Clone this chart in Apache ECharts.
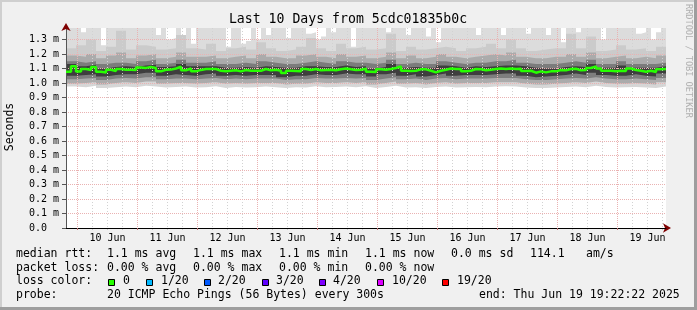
<!DOCTYPE html>
<html><head><meta charset="utf-8">
<script src="https://cdn.jsdelivr.net/npm/echarts@6/dist/echarts.min.js"></script>
<style>html,body{margin:0;padding:0;background:#f0f0f0}#c{width:697px;height:310px}</style>
</head><body><div id="c"></div>
<script>
// time axis in hours since 9 Jun 00:00; graph spans 10 days ending Jun 19 19:22:22
const T0 = 19.3728, T1 = 259.3728;
const majorHours = [24,48,72,96,120,144,168,192,216,240];
const minorHours = [30,36,42,54,60,66,78,84,90,102,108,114,126,132,138,150,156,162,174,180,186,198,204,210,222,228,234,246,252,258];
const labelHours = [36,60,84,108,132,156,180,204,228,252];
const dayLabels = ['10 Jun','11 Jun','12 Jun','13 Jun','14 Jun','15 Jun','16 Jun','17 Jun','18 Jun','19 Jun'];
const yTicks = [0,0.1,0.2,0.3,0.4,0.5,0.6,0.7,0.8,0.9,1.0,1.1,1.2,1.3];

// median rtt (ms), 120 samples of 2h
const median = [
 1.078,1.115,1.079,1.096,1.089,1.110,1.077,1.072,1.091,1.082,
 1.096,1.091,1.091,1.090,1.106,1.104,1.110,1.103,1.080,1.091,
 1.092,1.100,1.112,1.088,1.100,1.080,1.090,1.096,1.096,1.096,
 1.084,1.080,1.084,1.087,1.080,1.089,1.084,1.084,1.084,1.096,
 1.087,1.091,1.084,1.069,1.084,1.082,1.080,1.096,1.089,1.096,
 1.087,1.089,1.091,1.087,1.094,1.100,1.094,1.089,1.091,1.098,
 1.078,1.076,1.094,1.091,1.096,1.103,1.114,1.084,1.082,1.084,
 1.094,1.094,1.084,1.073,1.084,1.091,1.100,1.096,1.096,1.080,
 1.084,1.096,1.094,1.087,1.091,1.096,1.100,1.096,1.100,1.096,
 1.098,1.082,1.084,1.071,1.080,1.073,1.080,1.080,1.089,1.087,
 1.096,1.098,1.087,1.089,1.103,1.114,1.100,1.084,1.084,1.080,
 1.084,1.082,1.100,1.089,1.084,1.078,1.084,1.076,1.094,1.096
];
// highest ping (ms), 120 samples
const smokeMax = [
 1.379,1.379,1.379,1.35,1.379,1.379,1.379,1.26,1.379,1.379,
 1.379,1.379,1.379,1.379,1.379,1.379,1.379,1.379,1.33,1.379,
 1.30,1.31,1.379,1.33,1.379,1.27,1.379,1.379,1.379,1.379,
 1.379,1.379,1.25,1.379,1.379,1.27,1.29,1.379,1.30,1.379,
 1.33,1.379,1.379,1.379,1.31,1.379,1.379,1.379,1.34,1.35,
 1.30,1.32,1.379,1.35,1.379,1.379,1.379,1.25,1.379,1.379,
 1.379,1.379,1.379,1.379,1.35,1.379,1.379,1.379,1.33,1.379,
 1.379,1.379,1.32,1.379,1.28,1.379,1.379,1.379,1.379,1.379,
 1.379,1.379,1.33,1.379,1.379,1.379,1.379,1.33,1.379,1.379,
 1.379,1.379,1.34,1.379,1.379,1.379,1.33,1.379,1.379,1.28,
 1.379,1.379,1.35,1.379,1.379,1.379,1.379,1.30,1.379,1.379,
 1.379,1.379,1.379,1.379,1.34,1.35,1.379,1.30,1.35,1.379
];
// smoke band edges (ms), 60 samples of 4h
const smokeB1 = [1.24,1.26,1.30,1.22,1.25,1.36,1.23,1.26,1.25,1.23,1.24,1.33,1.24,1.23,1.27,1.22,1.24,1.25,1.23,1.28,1.24,1.22,1.23,1.25,1.31,1.24,1.22,1.27,1.24,1.25,1.23,1.24,1.34,1.22,1.25,1.23,1.24,1.25,1.24,1.22,1.24,1.25,1.27,1.24,1.30,1.24,1.22,1.23,1.24,1.24,1.34,1.24,1.32,1.22,1.23,1.26,1.23,1.24,1.22,1.25];
const smokeB2 = [1.19,1.18,1.20,1.17,1.19,1.21,1.17,1.19,1.20,1.17,1.18,1.21,1.18,1.18,1.19,1.17,1.18,1.19,1.17,1.20,1.18,1.17,1.17,1.19,1.20,1.18,1.17,1.20,1.18,1.19,1.17,1.18,1.21,1.17,1.19,1.17,1.18,1.20,1.18,1.17,1.18,1.19,1.20,1.19,1.21,1.18,1.17,1.17,1.18,1.18,1.20,1.18,1.21,1.17,1.18,1.19,1.17,1.18,1.17,1.19];
const smokeB3 = [1.15,1.14,1.15,1.13,1.14,1.14,1.13,1.15,1.16,1.13,1.14,1.16,1.14,1.14,1.15,1.13,1.13,1.14,1.13,1.15,1.14,1.13,1.13,1.14,1.15,1.14,1.13,1.15,1.14,1.14,1.13,1.14,1.16,1.13,1.14,1.13,1.13,1.15,1.14,1.13,1.14,1.14,1.15,1.15,1.16,1.14,1.13,1.13,1.13,1.14,1.15,1.14,1.16,1.13,1.13,1.15,1.13,1.13,1.13,1.14];
const smokeB4 = [1.13,1.115,1.125,1.10,1.11,1.115,1.11,1.12,1.125,1.11,1.115,1.13,1.115,1.115,1.115,1.105,1.105,1.11,1.105,1.115,1.11,1.105,1.105,1.115,1.115,1.11,1.11,1.12,1.11,1.115,1.10,1.11,1.13,1.105,1.11,1.105,1.105,1.12,1.115,1.105,1.115,1.11,1.115,1.12,1.12,1.115,1.105,1.10,1.10,1.11,1.115,1.11,1.13,1.105,1.105,1.12,1.105,1.105,1.105,1.115];
const smokeC1 = [1.05,1.055,1.06,1.045,1.055,1.06,1.06,1.07,1.07,1.05,1.06,1.055,1.05,1.06,1.065,1.05,1.055,1.05,1.055,1.055,1.055,1.04,1.05,1.05,1.06,1.055,1.055,1.065,1.06,1.06,1.045,1.06,1.07,1.05,1.06,1.045,1.055,1.065,1.05,1.055,1.055,1.055,1.06,1.065,1.065,1.05,1.04,1.045,1.05,1.055,1.065,1.055,1.07,1.055,1.05,1.05,1.06,1.05,1.045,1.065];
const smokeC2 = [1.025,1.03,1.035,1.02,1.03,1.035,1.03,1.04,1.04,1.025,1.03,1.03,1.025,1.03,1.035,1.025,1.03,1.025,1.03,1.03,1.03,1.02,1.025,1.025,1.035,1.03,1.03,1.035,1.03,1.035,1.02,1.03,1.04,1.025,1.03,1.02,1.03,1.035,1.025,1.03,1.03,1.03,1.035,1.035,1.035,1.025,1.02,1.02,1.025,1.03,1.035,1.03,1.04,1.03,1.025,1.025,1.03,1.025,1.02,1.035];
const smokeC3 = [0.995,1.0,1.005,0.99,1.0,1.005,1.0,1.01,1.01,0.995,1.0,1.0,0.995,1.0,1.005,0.995,1.0,0.995,1.0,1.0,1.0,0.99,0.995,0.995,1.005,1.0,1.0,1.005,1.0,1.005,0.99,1.0,1.01,0.995,1.0,0.99,1.0,1.005,0.995,1.0,1.0,1.0,1.005,1.005,1.005,0.995,0.99,0.99,0.995,1.0,1.005,1.0,1.01,1.0,0.995,0.995,1.0,0.995,0.99,1.005];
const smokeMin = [0.975,0.97,0.98,0.965,0.97,0.975,0.97,0.98,0.975,0.968,0.972,0.975,0.968,0.97,0.978,0.966,0.972,0.968,0.97,0.975,0.97,0.965,0.97,0.968,0.978,0.97,0.972,0.975,0.97,0.978,0.965,0.972,0.98,0.968,0.97,0.965,0.972,0.975,0.968,0.97,0.972,0.97,0.975,0.978,0.975,0.968,0.965,0.966,0.968,0.972,0.976,0.97,0.98,0.972,0.968,0.97,0.972,0.968,0.965,0.975];

const FONT = 'DejaVu Sans Mono';

function stepPts(arr){
  const n = arr.length, st = (T1 - T0) / n;
  const pts = arr.map((v, i) => [T0 + i * st, v]);
  pts.push([T1, arr[n - 1]]);
  return pts;
}
const bands = [
  [smokeMax, '#dcdcdc'], [smokeB1, '#cbcbcb'], [smokeB2, '#ababab'], [smokeB3, '#7c7c7c'],
  [smokeB4, '#3e3e3e'], [smokeC1, '#7e7e7e'], [smokeC2, '#ababab'], [smokeC3, '#d6d6d6'], [smokeMin, '#ffffff']
];
const series = bands.map(([arr, col]) => ({
  type: 'line', data: stepPts(arr), step: 'end', symbol: 'none', silent: true,
  lineStyle: { width: 0 }, areaStyle: { color: col, opacity: 1, origin: 'start' }, z: 1
}));
series.push({
  type: 'line', data: stepPts(median), step: 'end', symbol: 'none', silent: true,
  lineStyle: { width: 2.5, color: '#26ff00' }, z: 6
});

function txt(x, y, s, extra){
  return Object.assign({ type: 'text', x: x, y: y, silent: true,
    style: Object.assign({ text: s, font: '11.5px "' + FONT + '"', fill: '#000', verticalAlign: 'middle', align: 'left' }, extra || {}) });
}
const rows = [254.5, 268, 281.5, 295.5];
const graphics = [
  { type: 'rect', shape: { x: 0, y: 0, width: 697, height: 2 }, style: { fill: '#cfcfcf' }, silent: true },
  { type: 'rect', shape: { x: 0, y: 0, width: 2, height: 310 }, style: { fill: '#cfcfcf' }, silent: true },
  { type: 'rect', shape: { x: 0, y: 307, width: 697, height: 3 }, style: { fill: '#9e9e9e' }, silent: true },
  { type: 'rect', shape: { x: 694, y: 0, width: 3, height: 310 }, style: { fill: '#9e9e9e' }, silent: true },
  txt(348, 19.5, 'Last 10 Days from 5cdc01835b0c', { align: 'center', font: '13.2px "' + FONT + '"' }),
  { type: 'text', x: 10.5, y: 127, rotation: Math.PI / 2, silent: true,
    style: { text: 'Seconds', font: '11.5px "' + FONT + '"', fill: '#000', align: 'center', verticalAlign: 'middle' } },
  { type: 'text', x: 688, y: 4, rotation: -Math.PI / 2, silent: true,
    style: { text: 'RRDTOOL / TOBI OETIKER', font: '8.6px "' + FONT + '"', fill: '#b0b0b0', align: 'left', verticalAlign: 'middle' } },
  txt(16, rows[0], 'median rtt:'), txt(107, rows[0], '1.1 ms avg'), txt(193, rows[0], '1.1 ms max'),
  txt(279, rows[0], '1.1 ms min'), txt(365, rows[0], '1.1 ms now'), txt(451, rows[0], '0.0 ms sd'),
  txt(530, rows[0], '114.1'), txt(586, rows[0], 'am/s'),
  txt(16, rows[1], 'packet loss:'), txt(107, rows[1], '0.00 % avg'), txt(193, rows[1], '0.00 % max'),
  txt(279, rows[1], '0.00 % min'), txt(365, rows[1], '0.00 % now'),
  txt(16, rows[2], 'loss color:'),
  txt(16, rows[3], 'probe:'), txt(107, rows[3], '20 ICMP Echo Pings (56 Bytes) every 300s'),
  txt(479, rows[3], 'end: Thu Jun 19 19:22:22 2025')
];
const lossLegend = [
  ['0', '#26ff00', 108, 123], ['1/20', '#00b8ff', 146, 161], ['2/20', '#0059ff', 204, 218],
  ['3/20', '#5e00ff', 262, 276], ['4/20', '#7e00ff', 319, 333], ['10/20', '#dd00ff', 377, 392], ['19/20', '#ff0000', 442, 457]
];
lossLegend.forEach(([lab, col, sx, tx]) => {
  graphics.push({ type: 'rect', shape: { x: sx + 0.5, y: 279.5, width: 6, height: 6 }, style: { fill: col, stroke: '#000', lineWidth: 1 }, silent: true });
  graphics.push(txt(tx, rows[2], lab));
});

const chart = echarts.init(document.getElementById('c'), null, { renderer: 'canvas' });
chart.setOption({
  animation: false,
  backgroundColor: '#f0f0f0',
  grid: { left: 66, right: 31, top: 28, bottom: 82, show: true, backgroundColor: '#ffffff', borderWidth: 0 },
  xAxis: [
    { type: 'value', min: T0, max: T1, position: 'bottom', z: 4,
      axisLine: { show: true, onZero: false, lineStyle: { color: '#000', width: 1 } },
      axisTick: { show: true, customValues: majorHours, length: 2, lineStyle: { color: '#c07070' } },
      axisLabel: { show: true, customValues: labelHours, margin: 5, fontFamily: FONT, fontSize: 10, color: '#000',
        formatter: v => { const k = labelHours.indexOf(Math.round(v)); return k >= 0 ? dayLabels[k] : ''; } },
      splitLine: { show: true, lineStyle: { color: '#eab2b2', width: 1, type: [1, 1] } } },
    { type: 'value', min: T0, max: T1, position: 'bottom', z: 3,
      axisLine: { show: true, onZero: false, symbol: ['none', 'arrow'], symbolSize: [7, 8], symbolOffset: [0, 5], lineStyle: { color: '#7f0000', width: 0 } },
      axisTick: { show: true, customValues: minorHours, length: 2, lineStyle: { color: '#c8c8c8' } },
      axisLabel: { show: false },
      splitLine: { show: true, lineStyle: { color: '#d2d2d2', width: 1, type: [1, 2] } } }
  ],
  yAxis: [
    { type: 'value', min: 0, max: 1.379, z: 4,
      axisLine: { show: true, lineStyle: { color: '#555', width: 1 } },
      axisTick: { show: true, customValues: yTicks, length: 4, lineStyle: { color: '#555' } },
      axisLabel: { show: true, customValues: yTicks, margin: 7, fontFamily: FONT, fontSize: 10, color: '#000',
        formatter: v => v === 0 ? '0.0  ' : v.toFixed(1) + ' m' },
      splitLine: { show: true, lineStyle: { color: '#eab2b2', width: 1, type: [1, 1] } } },
    { type: 'value', min: 0, max: 1.379, position: 'left', z: 4,
      axisLine: { show: true, onZero: false, symbol: ['none', 'arrow'], symbolSize: [7, 8], symbolOffset: [0, 5], lineStyle: { color: '#7f0000', width: 0 } },
      axisTick: { show: false }, axisLabel: { show: false }, splitLine: { show: false } }
  ],
  series: series,
  graphic: graphics
});
</script></body></html>
